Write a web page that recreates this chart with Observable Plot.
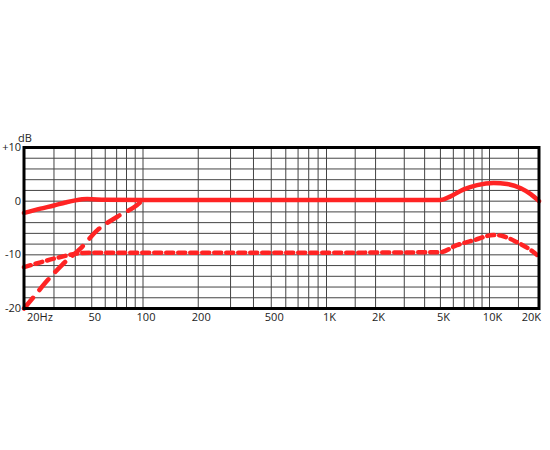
<!DOCTYPE html>
<html>
<head>
<meta charset="utf-8">
<script src="https://cdn.jsdelivr.net/npm/d3@7"></script>
<script src="https://cdn.jsdelivr.net/npm/@observablehq/plot@0.6"></script>
<style>
  html, body { margin: 0; padding: 0; background: #fff; }
  svg { display: block; }
</style>
</head>
<body>
<div id="chart"></div>
<script>
// Frequency response (dB vs Hz)
const gridFreqs = [20,30,40,50,60,70,80,90,100,200,300,400,500,600,700,800,900,1000,1500,2000,3000,4000,5000,6000,7000,8000,9000,10000,15000,20000];
const gridDb = [-20,-18,-16,-14,-12,-10,-8,-6,-4,-2,0,2,4,6,8,10];

const xTickValues = [20,50,100,200,500,1000,2000,5000,10000,20000];
const xTickLabels = ["20Hz","50","100","200","500","1K","2K","5K","10K","20K"];
const yTickValues = [10,0,-10,-20];
const yTickLabels = ["+10","0","-10","-20"];

// Main (flat) response, solid
const mainFreq = [20,25,30,35,40,47,60,100,1000,5000,5770,6950,8400,10600,12800,15500,17800,20000];
const mainDb   = [-2.2,-1.4,-0.8,-0.25,0.15,0.4,0.25,0.2,0.2,0.2,0.9,2.2,3.0,3.4,3.2,2.4,1.3,0];

// -10 dB pad response, short dashes
const padFreq = [20,25,30,35,40,50,100,1000,5000,6300,8000,10600,12000,14600,17800,20000];
const padDb   = [-12.3,-11.4,-10.7,-10.2,-9.8,-9.6,-9.6,-9.6,-9.5,-8.2,-7.3,-6.3,-6.5,-7.6,-9.1,-10.3];

// Low-cut response, long dashes
const cutFreq = [20,23,27.4,33.4,43,54,70.6,92,100];
const cutDb   = [-20,-17.7,-14.8,-11.9,-8.8,-5.4,-2.9,-0.75,0.2];

const toRows = (f, v) => f.map((x, i) => ({f: x, db: v[i]}));
const mainRows = toRows(mainFreq, mainDb);
const padRows = toRows(padFreq, padDb);
const cutRows = toRows(cutFreq, cutDb);
const xLabelRows = xTickValues.map((v, i) => ({f: v, label: xTickLabels[i]}));
const yLabelRows = yTickValues.map((v, i) => ({db: v, label: yTickLabels[i]}));

const red = "#ff2424";
const font = "'Open Sans', 'Liberation Sans', sans-serif";

const chart = Plot.plot({
  width: 550,
  height: 450,
  marginLeft: 23.5,
  marginRight: 11.5,
  marginTop: 147,
  marginBottom: 142,
  style: {fontFamily: font, fontSize: "11px", color: "#222", background: "#fff"},
  x: {type: "log", domain: [20, 100, 1000, 10000, 20000], range: [23.5, 142.5, 326, 489, 538.5], axis: null},
  y: {domain: [-20, 10], axis: null},
  marks: [
    Plot.ruleX(gridFreqs, {stroke: "#444", strokeWidth: 1}),
    Plot.ruleY(gridDb, {stroke: "#444", strokeWidth: 1}),
    Plot.line(cutRows, {x: "f", y: "db", stroke: red, strokeWidth: 4.5, strokeDasharray: "14,10", curve: "monotone-x"}),
    Plot.line(padRows, {x: "f", y: "db", stroke: red, strokeWidth: 4.5, strokeDasharray: "7,5", curve: "monotone-x"}),
    Plot.line(mainRows, {x: "f", y: "db", stroke: red, strokeWidth: 4.5, curve: "monotone-x"}),
    Plot.frame({stroke: "#000", strokeWidth: 3}),
    Plot.text(xLabelRows.filter((d) => d.f > 20 && d.f < 20000), {x: "f", text: "label", frameAnchor: "bottom", lineAnchor: "top", dy: 5, dx: 3, fill: "#222"}),
    Plot.text(xLabelRows.filter((d) => d.f === 20), {x: "f", text: "label", frameAnchor: "bottom", lineAnchor: "top", textAnchor: "start", dy: 5, dx: 3, fill: "#222"}),
    Plot.text(xLabelRows.filter((d) => d.f === 20000), {x: "f", text: "label", frameAnchor: "bottom", lineAnchor: "top", textAnchor: "end", dy: 5, dx: 2, fill: "#222"}),
    Plot.text(yLabelRows, {y: "db", text: "label", frameAnchor: "left", textAnchor: "end", dx: -3, fill: "#222"}),
    Plot.text(["dB"], {frameAnchor: "top-left", dx: -6, dy: -13, fill: "#222"})
  ]
});
document.getElementById("chart").appendChild(chart);
</script>
</body>
</html>
